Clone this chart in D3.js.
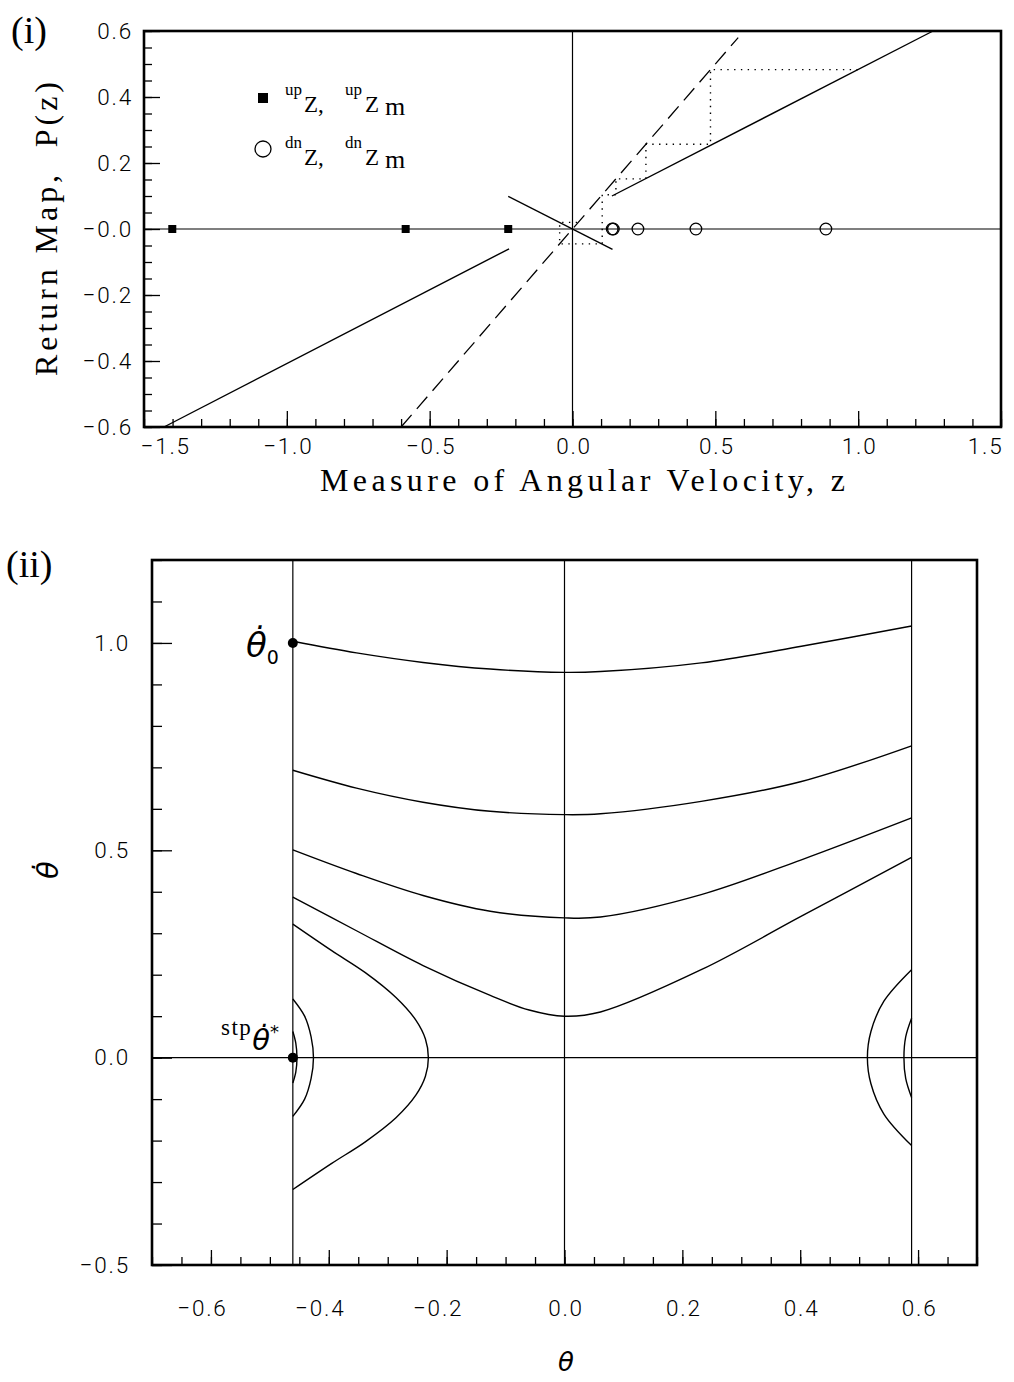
<!DOCTYPE html>
<html>
<head>
<meta charset="utf-8">
<script src="https://cdn.jsdelivr.net/npm/d3@7"></script>
<style>
  body { margin: 0; background: #fff; }
  svg { display: block; }
  .tick text { font-family: Roboto, "DejaVu Sans", sans-serif; font-weight: 300; font-size: 22.5px; fill: #000; letter-spacing: 1.8px; }
  .tick line { stroke: #000; stroke-width: 1.3; }
  .serif { font-family: "Liberation Serif", serif; fill: #000; }
  .greek { font-family: "DejaVu Sans", sans-serif; font-style: italic; fill: #000; }
</style>
</head>
<body>
<svg id="fig" width="1014" height="1382"></svg>
<script>
// ---------- panel (i): return map P(z) ----------
const zTicks = [-1.5, -1.0, -0.5, 0, 0.5, 1.0, 1.5];
const zTickLabels = ["−1.5", "−1.0", "−0.5", "0.0", "0.5", "1.0", "1.5"];
const pTicks = [-0.6, -0.4, -0.2, 0, 0.2, 0.4, 0.6];
const pTickLabels = ["−0.6", "−0.4", "−0.2", "−0.0", "0.2", "0.4", "0.6"];

const upZ = [-1.401, -0.584, -0.225];             // filled squares on P = 0
const dnZ = [0.139, 0.143, 0.229, 0.432, 0.887];  // open circles on P = 0

const identityLine = [[-0.6, -0.6], [0.58, 0.58]];
const mapLeft   = [[-1.43, -0.600], [-0.222, -0.060]];
const mapMiddle = [[-0.225, 0.099], [0.140, -0.062]];
const mapRight  = [[0.138, 0.100], [1.262, 0.600]];
const cobweb = [
  [0.999, 0.483], [0.483, 0.483], [0.483, 0.257], [0.257, 0.257],
  [0.257, 0.152], [0.152, 0.152], [0.152, 0.104], [0.104, 0.104],
  [0.104, -0.045], [-0.045, -0.045], [-0.045, 0.020], [0.020, 0.020]
];

// ---------- panel (ii): phase portrait ----------
const thTicks = [-0.6, -0.4, -0.2, 0, 0.2, 0.4, 0.6];
const thTickLabels = ["−0.6", "−0.4", "−0.2", "0.0", "0.2", "0.4", "0.6"];
const omTicks = [-0.5, 0, 0.5, 1.0];
const omTickLabels = ["−0.5", "0.0", "0.5", "1.0"];

const walls = [-0.461, 0.589];   // vertical boundaries of the trajectories

const orbitA = [[-0.461, 1.004], [-0.353, 0.976], [-0.240, 0.953], [-0.126, 0.937], [0, 0.929],
                [0.061, 0.931], [0.232, 0.952], [0.402, 0.992], [0.589, 1.041]];
const orbitB = [[-0.461, 0.693], [-0.353, 0.650], [-0.240, 0.616], [-0.126, 0.594], [0, 0.586],
                [0.061, 0.588], [0.232, 0.618], [0.402, 0.666], [0.589, 0.752]];
const orbitC = [[-0.461, 0.501], [-0.353, 0.444], [-0.240, 0.391], [-0.126, 0.353], [0, 0.337],
                [0.061, 0.339], [0.232, 0.393], [0.402, 0.477], [0.589, 0.578]];
const orbitD = [[-0.461, 0.387], [-0.353, 0.306], [-0.240, 0.222], [-0.126, 0.150], [-0.060, 0.115],
                [0, 0.100], [0.061, 0.110], [0.232, 0.212], [0.402, 0.341], [0.589, 0.483]];

const arcLeftOuter = [[-0.461, 0.322], [-0.395, 0.258], [-0.338, 0.205], [-0.286, 0.145], [-0.252, 0.090],
                      [-0.236, 0.045], [-0.231, 0], [-0.236, -0.045], [-0.252, -0.090], [-0.286, -0.145],
                      [-0.338, -0.203], [-0.395, -0.255], [-0.461, -0.318]];
const arcLeftMid = [[-0.461, 0.1415], [-0.441, 0.100], [-0.430, 0.050], [-0.426, 0],
                    [-0.430, -0.050], [-0.441, -0.100], [-0.461, -0.1415]];
const arcLeftInner = [[-0.461, 0.063], [-0.456, 0.035], [-0.454, 0], [-0.456, -0.035], [-0.461, -0.061]];
const arcRightOuter = [[0.589, 0.212], [0.542, 0.136], [0.520, 0.063], [0.514, 0],
                       [0.520, -0.063], [0.542, -0.136], [0.589, -0.212]];
const arcRightInner = [[0.589, 0.095], [0.579, 0.050], [0.576, 0], [0.579, -0.050], [0.589, -0.096]];

const markedStates = [[-0.461, 1.0], [-0.461, 0]];

// ---------- drawing ----------
const svg = d3.select("#fig");
const black = "#000";

function frame(g, box) {
  g.append("rect")
    .attr("x", box.l).attr("y", box.t)
    .attr("width", box.r - box.l).attr("height", box.b - box.t)
    .attr("fill", "none").attr("stroke", black).attr("stroke-width", 2.6);
}

function cleanAxis(sel) { sel.select(".domain").remove(); }

// ===== panel (i) =====
const B1 = { l: 144, r: 1001, t: 31, b: 427 };
const x1 = d3.scaleLinear().domain([-1.5, 1.5]).range([B1.l, B1.r]);
const y1 = d3.scaleLinear().domain([-0.6, 0.6]).range([B1.b, B1.t]);
const g1 = svg.append("g");

// axes: minor then major ticks, pointing inward
g1.append("g").attr("transform", `translate(0,${B1.b})`)
  .call(d3.axisBottom(x1).tickValues(d3.range(-15, 16).map(k => k / 10)).tickSize(-8).tickFormat(""))
  .call(cleanAxis);
const xa1 = g1.append("g").attr("transform", `translate(0,${B1.b})`)
  .call(d3.axisBottom(x1).tickValues(zTicks).tickSize(-16).tickPadding(11).tickFormat((d, i) => zTickLabels[i]))
  .call(cleanAxis);
xa1.selectAll(".tick text").attr("dx", 1);
xa1.selectAll(".tick text").filter((d, i) => i === 0).attr("text-anchor", "start").attr("x", -4).attr("dx", 0);
xa1.selectAll(".tick text").filter((d, i) => i === zTicks.length - 1).attr("text-anchor", "end").attr("x", 2).attr("dx", 0);

g1.append("g").attr("transform", `translate(${B1.l},0)`)
  .call(d3.axisLeft(y1).tickValues(d3.range(-12, 13).map(k => k / 20)).tickSize(-8).tickFormat(""))
  .call(cleanAxis);
g1.append("g").attr("transform", `translate(${B1.l},0)`)
  .call(d3.axisLeft(y1).tickValues(pTicks).tickSize(-16).tickPadding(11).tickFormat((d, i) => pTickLabels[i]))
  .call(cleanAxis);

// reference axes through the origin
g1.append("line").attr("x1", x1(-1.5)).attr("x2", x1(1.5)).attr("y1", y1(0)).attr("y2", y1(0))
  .attr("stroke", black).attr("stroke-width", 1.2);
g1.append("line").attr("x1", x1(0)).attr("x2", x1(0)).attr("y1", y1(-0.6)).attr("y2", y1(0.6))
  .attr("stroke", black).attr("stroke-width", 1.2);

const line1 = d3.line().x(d => x1(d[0])).y(d => y1(d[1]));
g1.append("path").attr("d", line1(identityLine)).attr("fill", "none")
  .attr("stroke", black).attr("stroke-width", 1.3).attr("stroke-dasharray", "16,8");
[mapLeft, mapMiddle, mapRight].forEach(seg => {
  g1.append("path").attr("d", line1(seg)).attr("fill", "none")
    .attr("stroke", black).attr("stroke-width", 1.4);
});
g1.append("path").attr("d", line1(cobweb)).attr("fill", "none")
  .attr("stroke", black).attr("stroke-width", 1.4).attr("stroke-dasharray", "1.4,5.4");

g1.selectAll("rect.up").data(upZ).join("rect").attr("class", "up")
  .attr("x", d => x1(d) - 4).attr("y", y1(0) - 4).attr("width", 8).attr("height", 8).attr("fill", black);
g1.selectAll("circle.dn").data(dnZ).join("circle").attr("class", "dn")
  .attr("cx", d => x1(d)).attr("cy", y1(0)).attr("r", 5.8)
  .attr("fill", "none").attr("stroke", black).attr("stroke-width", 1.3);

frame(g1, B1);

// legend
g1.append("rect").attr("x", 258).attr("y", 93).attr("width", 10).attr("height", 10).attr("fill", black);
g1.append("circle").attr("cx", 263).attr("cy", 149).attr("r", 8)
  .attr("fill", "none").attr("stroke", black).attr("stroke-width", 1.3);

function legendLabel(y, sup) {
  const t = g1.append("text").attr("class", "serif");
  t.append("tspan").attr("x", 285).attr("y", y - 17).attr("font-size", 17).text(sup);
  t.append("tspan").attr("x", 304).attr("y", y).attr("font-size", 23).text("Z,");
  t.append("tspan").attr("x", 345).attr("y", y - 17).attr("font-size", 17).text(sup);
  t.append("tspan").attr("x", 365).attr("y", y).attr("font-size", 23).text("Z");
  t.append("tspan").attr("x", 385).attr("y", y + 3).attr("font-size", 26).text("m");
}
legendLabel(112, "up");
legendLabel(165, "dn");

// titles
svg.append("text").attr("class", "serif").attr("x", 11).attr("y", 43).attr("font-size", 38).text("(i)");
svg.append("text").attr("class", "serif").attr("x", 320).attr("y", 491).attr("font-size", 32)
  .attr("textLength", 525).attr("lengthAdjust", "spacing").text("Measure of Angular Velocity, z");
svg.append("text").attr("class", "serif").attr("font-size", 32)
  .attr("transform", "translate(57,376) rotate(-90)").attr("xml:space", "preserve")
  .attr("textLength", 294).attr("lengthAdjust", "spacing").text("Return Map,  P(z)");

// ===== panel (ii) =====
const B2 = { l: 152, r: 977, t: 560, b: 1265 };
const x2 = d3.scaleLinear().domain([-0.7, 0.7]).range([B2.l, B2.r]);
const y2 = d3.scaleLinear().domain([-0.5, 1.2]).range([B2.b, B2.t]);
const g2 = svg.append("g");

g2.append("g").attr("transform", `translate(0,${B2.b})`)
  .call(d3.axisBottom(x2).tickValues(d3.range(-14, 15).map(k => k / 20)).tickSize(-8).tickFormat(""))
  .call(cleanAxis);
const xa2 = g2.append("g").attr("transform", `translate(0,${B2.b})`)
  .call(d3.axisBottom(x2).tickValues(thTicks).tickSize(-15).tickPadding(35).tickFormat((d, i) => thTickLabels[i]))
  .call(cleanAxis);
xa2.selectAll(".tick text").attr("dx", 1);
xa2.selectAll(".tick text").filter(d => d < 0).attr("x", -10);

g2.append("g").attr("transform", `translate(${B2.l},0)`)
  .call(d3.axisLeft(y2).tickValues(d3.range(-5, 13).map(k => k / 10)).tickSize(-10).tickFormat(""))
  .call(cleanAxis);
g2.append("g").attr("transform", `translate(${B2.l},0)`)
  .call(d3.axisLeft(y2).tickValues(omTicks).tickSize(-20).tickPadding(22).tickFormat((d, i) => omTickLabels[i]))
  .call(cleanAxis);

// guide lines
g2.append("line").attr("x1", x2(-0.7)).attr("x2", x2(0.7)).attr("y1", y2(0)).attr("y2", y2(0))
  .attr("stroke", black).attr("stroke-width", 1.2);
[walls[0], 0, walls[1]].forEach(v => {
  g2.append("line").attr("x1", x2(v)).attr("x2", x2(v)).attr("y1", y2(-0.5)).attr("y2", y2(1.2))
    .attr("stroke", black).attr("stroke-width", 1.2);
});

const line2 = d3.line().x(d => x2(d[0])).y(d => y2(d[1])).curve(d3.curveCatmullRom.alpha(0.5));
[orbitA, orbitB, orbitC, orbitD, arcLeftOuter, arcLeftMid, arcLeftInner, arcRightOuter, arcRightInner]
  .forEach(c => {
    g2.append("path").attr("d", line2(c)).attr("fill", "none")
      .attr("stroke", black).attr("stroke-width", 1.4);
  });

g2.selectAll("circle.mark").data(markedStates).join("circle").attr("class", "mark")
  .attr("cx", d => x2(d[0])).attr("cy", d => y2(d[1])).attr("r", 5).attr("fill", black);

frame(g2, B2);

// labels for marked states
const lab0 = svg.append("text").attr("x", 246).attr("y", 657);
lab0.append("tspan").attr("class", "greek").attr("font-size", 34).text("θ\u0307");
lab0.append("tspan").attr("font-family", "DejaVu Sans, sans-serif").attr("font-size", 19).attr("dy", 7).text("0");

const labS = svg.append("text").attr("x", 221).attr("y", 1035);
labS.append("tspan").attr("class", "serif").attr("font-size", 23).attr("letter-spacing", 1.5).text("stp");
labS.append("tspan").attr("class", "greek").attr("font-size", 29).attr("dy", 15).text("θ\u0307");
labS.append("tspan").attr("font-family", "DejaVu Sans, sans-serif").attr("font-size", 18).attr("dy", -12).text("*");

svg.append("text").attr("class", "serif").attr("x", 6).attr("y", 577).attr("font-size", 38).text("(ii)");
svg.append("text").attr("class", "greek").attr("x", 566).attr("y", 1371).attr("font-size", 26)
  .attr("text-anchor", "middle").text("θ");
svg.append("text").attr("class", "greek").attr("font-size", 29).attr("text-anchor", "middle")
  .attr("transform", "translate(58,870) rotate(-90)").text("θ\u0307");
</script>
</body>
</html>
